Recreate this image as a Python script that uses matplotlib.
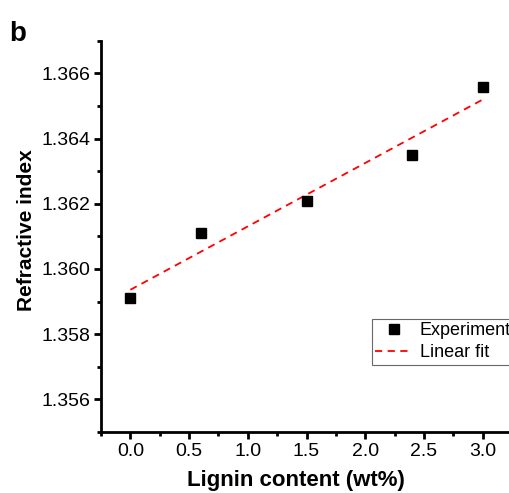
#! /usr/bin/env python3

import numpy as np
from matplotlib import pyplot as plt
from matplotlib.ticker import MultipleLocator

plt.rcParams['font.family'] = ['Liberation Sans', 'DejaVu Sans']

# Experimental data
lignin = [0.0, 0.6, 1.5, 2.4, 3.0]
refr_index = [1.3591, 1.3611, 1.3621, 1.3635, 1.3656]

# Linear fit of the data
coef = np.polyfit(lignin, refr_index, 1)
x_fit = np.array([0.0, 3.0])
y_fit = np.polyval(coef, x_fit)

fig = plt.figure(figsize=(5.10, 4.93), dpi=100)
ax = fig.add_axes([0.198, 0.124, 0.806, 0.793])

ax.plot(lignin, refr_index, 's', color='black', markersize=6.5, label='Experiment', zorder=3)
ax.plot(x_fit, y_fit, '--', color='red', linewidth=1.3, dashes=(4, 3), label='Linear fit')

ax.set_xlim(-0.25, 3.25)
ax.set_ylim(1.355, 1.367)
ax.xaxis.set_major_locator(MultipleLocator(0.5))
ax.xaxis.set_minor_locator(MultipleLocator(0.25))
ax.yaxis.set_major_locator(MultipleLocator(0.002))
ax.yaxis.set_minor_locator(MultipleLocator(0.001))
ax.yaxis.set_major_formatter(plt.FormatStrFormatter('%.3f'))
ax.xaxis.set_major_formatter(plt.FormatStrFormatter('%.1f'))

for s in ['top', 'right']:
    ax.spines[s].set_visible(False)
for s in ['left', 'bottom']:
    ax.spines[s].set_linewidth(2)

ax.tick_params(which='major', direction='out', length=5, width=2, labelsize=14)
ax.tick_params(axis='x', which='major', pad=3)
ax.tick_params(axis='y', which='major', pad=2.5)
ax.tick_params(which='minor', direction='out', length=3, width=2)

ax.set_xlabel('Lignin content (wt%)', fontsize=16, fontweight='bold')
ax.set_ylabel('Refractive index', fontsize=15, fontweight='bold')
ax.xaxis.set_label_coords(0.474, -0.098)
ax.yaxis.set_label_coords(-0.158, 0.517)

leg = ax.legend(loc='upper left', bbox_to_anchor=(0.659, 0.289), fontsize=13,
                frameon=True, fancybox=False, borderpad=0.2, handlelength=2.0,
                handletextpad=0.45, labelspacing=0.25, borderaxespad=0)
leg.get_frame().set_edgecolor('#444444')
leg.get_frame().set_linewidth(0.8)

fig.text(0.018, 0.917, 'b', fontsize=20, fontweight='bold', va='baseline')

fig.savefig('out.png', dpi=100)
